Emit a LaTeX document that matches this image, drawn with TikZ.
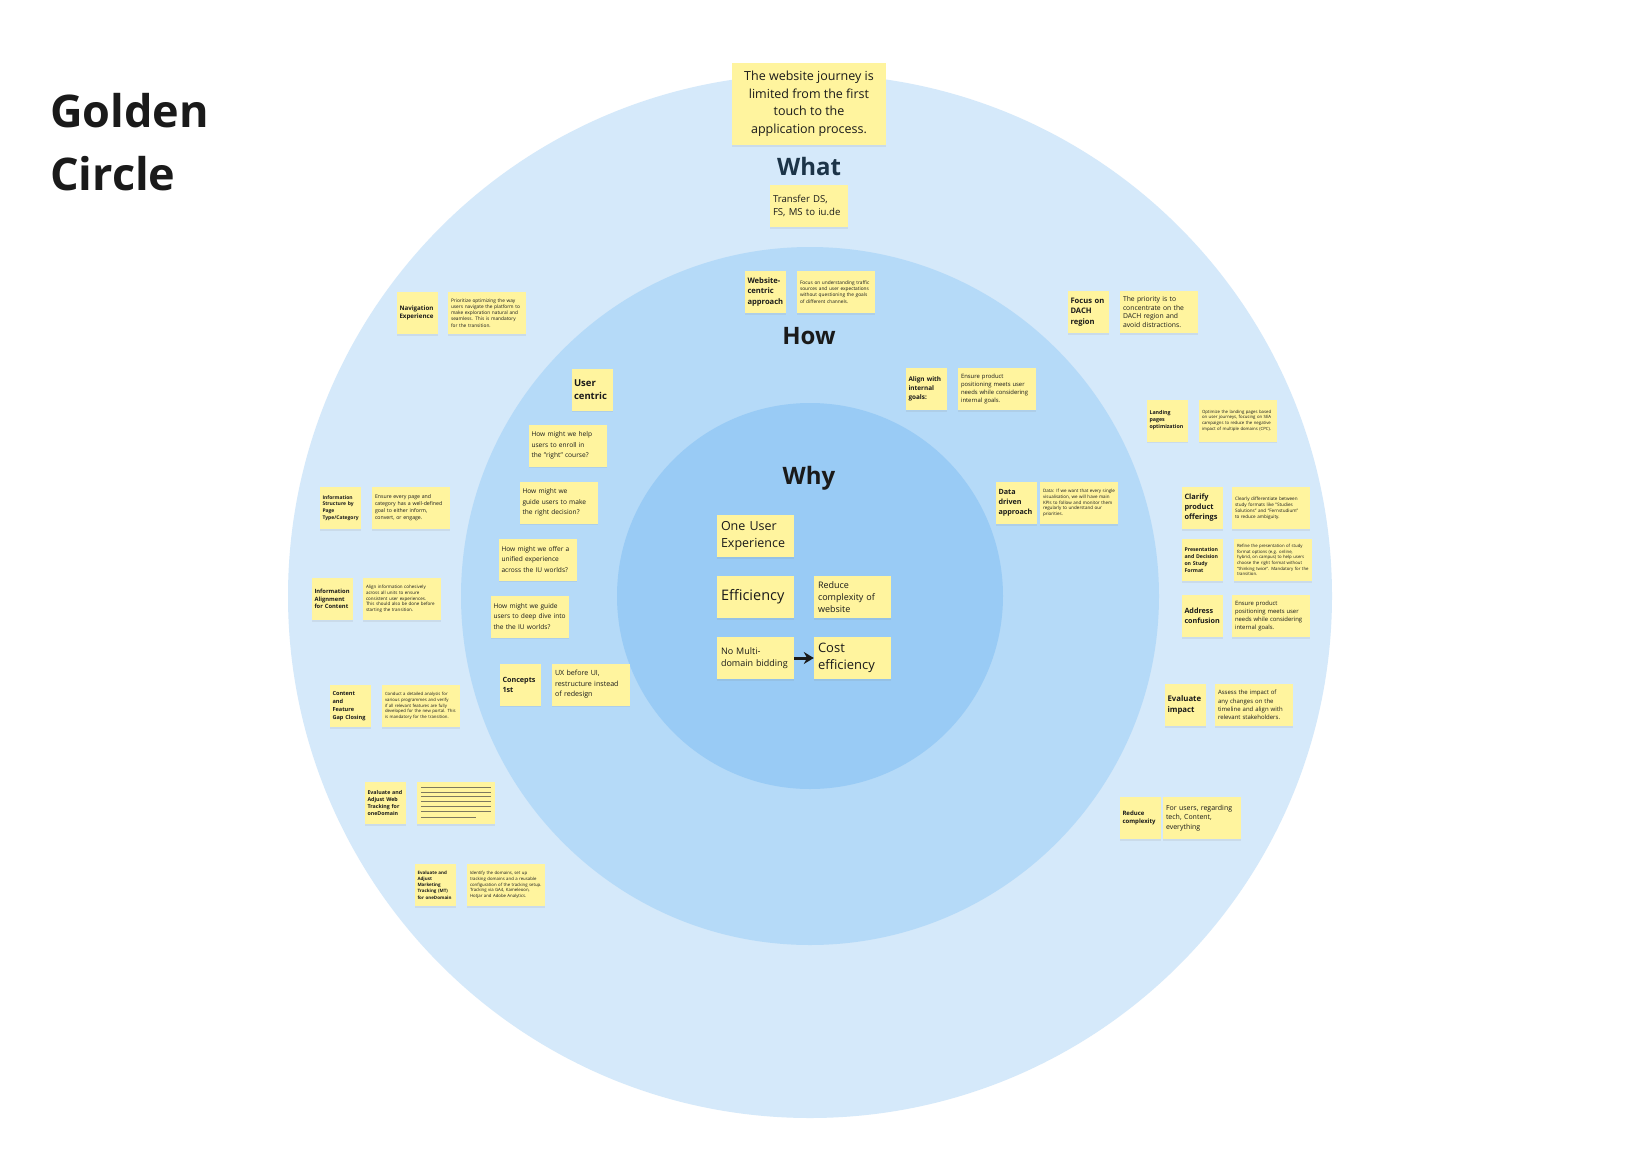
\documentclass[tikz,border=0pt]{standalone}
\usepackage{fontspec}
\setmainfont{Open Sans}
\usetikzlibrary{arrows.meta,shadows,calc}
\definecolor{outerC}{RGB}{213,233,250}
\definecolor{midC}{RGB}{181,218,248}
\definecolor{innerC}{RGB}{153,203,245}
\definecolor{noteY}{RGB}{255,244,158}
\definecolor{whatC}{RGB}{28,52,72}
\definecolor{inkC}{RGB}{26,26,26}
\definecolor{ruleC}{RGB}{125,120,95}
\newcommand{\fsz}[2]{\fontsize{#1}{#2}\selectfont}
\hyphenpenalty=10000
\exhyphenpenalty=10000
\begin{document}
\begin{tikzpicture}[x=1pt,y=-1pt,
  sticky/.style={fill=noteY, inner sep=0pt, align=left, text=inkC,
    drop shadow={opacity=0.13,shadow xshift=0pt,shadow yshift=-1.5pt}},
  stickyS/.style={sticky, minimum width=41pt, minimum height=42pt, text width=36pt},
  stickyW/.style={sticky, minimum width=78pt, minimum height=42pt, text width=72pt},
  stickyB/.style={sticky, minimum width=77pt, minimum height=42pt, text width=69pt},
  hmwtext/.style={font=\fsz{6.6}{10.5}, text width=73pt},
  ringlabel/.style={font=\bfseries\fsz{24}{28}, text=inkC},
  titletext/.style={font=\bfseries\fsz{45}{56}, text=inkC, anchor=base west, inner sep=0pt},
  ruleline/.style={draw=ruleC, line width=1pt}
]
\fill[white] (0,0) rectangle (1647,1170);
% rings
\fill[outerC] (810,596) circle (522);
\fill[midC] (810,596) circle (349);
\fill[innerC] (810,596) circle (193);

% title
\node[titletext] (title1) at (50,127) {Golden};
\node[titletext] (title2) at (50,190) {Circle};

% ring labels
\node[ringlabel, text=whatC] (what) at (809,166) {What};
\node[ringlabel] (how) at (809,336) {How};
\node[ringlabel] (why) at (809,478) {Why};

% What ring, top
\node[sticky, minimum width=154pt, minimum height=82pt, align=center, font=\fsz{12.5}{17.5}] (journey) at (809,104)
  {The website journey is\\limited from the first\\touch to the\\application process.};
\node[stickyW, font=\fsz{9.6}{13.5}] (transfer) at (809,206) {Transfer DS,\\FS, MS to iu.de};

% How ring
\node[stickyS, font=\bfseries\fsz{7.6}{10.5}] (web) at (765.5,292) {Website-\\centric\\approach};
\node[stickyW, font=\fsz{4.8}{6.2}] (webT) at (836,292) {Focus on understanding traffic sources and user expectations without questioning the goals of different channels.};
\node[stickyS, font=\bfseries\fsz{9.5}{13}] (user) at (592,389.5) {User\\centric};
\node[stickyS, font=\bfseries\fsz{6.4}{9}] (align) at (926.5,389) {Align with\\internal\\goals:};
\node[stickyW, font=\fsz{5.9}{8.3}] (alignT) at (997,389) {Ensure product\\positioning meets user\\needs while considering\\internal goals.};
\node[stickyW, hmwtext] (hmw1) at (568,445.5) {How might we help\\users to enroll in\\the "right" course?};
\node[stickyW, hmwtext] (hmw2) at (559,502.5) {How might we\\guide users to make\\the right decision?};
\node[stickyW, hmwtext] (hmw3) at (538,559.5) {How might we offer a\\unified experience\\across the IU worlds?};
\node[stickyW, hmwtext] (hmw4) at (530,616.5) {How might we guide\\users to deep dive into\\the the IU worlds?};
\node[stickyS, font=\bfseries\fsz{7.2}{10}] (conc) at (520.5,684.5) {Concepts\\1st};
\node[stickyW, font=\fsz{7.1}{10.5}] (ux) at (591,684.5) {UX before UI,\\restructure instead\\of redesign};
\node[stickyS, font=\bfseries\fsz{7.2}{10}] (data) at (1016.5,503) {Data\\driven\\approach};
\node[stickyW, font=\fsz{4.5}{5.8}] (dataT) at (1079,503) {Data: If we want that every single visualisation, we will have main KPIs to follow and monitor them regularly to understand our priorities.};

% What ring, left
\node[stickyS, font=\bfseries\fsz{6.2}{8.5}] (nav) at (417.5,313) {Navigation\\Experience};
\node[stickyW, font=\fsz{4.8}{6.2}] (navT) at (487,313) {Prioritize optimizing the way users navigate the platform to make exploration natural and seamless. This is mandatory for the transition.};
\node[stickyS, font=\bfseries\fsz{5}{6.8}] (infs) at (340.5,508) {Information\\Structure by\\Page\\Type/Category};
\node[stickyW, font=\fsz{5.2}{7}] (infsT) at (411,508) {Ensure every page and\\category has a well-defined\\goal to either inform,\\convert, or engage.};
\node[stickyS, font=\bfseries\fsz{5.8}{7.8}] (infa) at (332.5,599) {Information\\Alignment\\for Content};
\node[stickyW, font=\fsz{4.5}{5.8}] (infaT) at (402,599) {Align information cohesively across all units to ensure consistent user experiences. This should also be done before starting the transition.};
\node[stickyS, font=\bfseries\fsz{5.6}{7.8}] (gap) at (350.5,706) {Content\\and\\Feature\\Gap Closing};
\node[stickyW, font=\fsz{4.3}{5.6}] (gapT) at (421,706) {Conduct a detailed analysis for various programmes and verify if all relevant features are fully developed for the new portal. This is mandatory for the transition.};
\node[stickyS, font=\bfseries\fsz{5.3}{7}] (wt) at (385.5,803) {Evaluate and\\Adjust Web\\Tracking for\\oneDomain};
\node[stickyW] (wtT) at (456,803) {};
\foreach \i in {0,...,5}
  \draw[ruleline] ($(wtT.north west)+(4,5.5+4.8*\i)$) -- ++(70,0);
\draw[ruleline] ($(wtT.north west)+(4,35.3)$) -- ++(55,0);
\node[stickyS, font=\bfseries\fsz{4.5}{6.2}] (mt) at (435.5,885) {Evaluate and\\Adjust\\Marketing\\Tracking (MT)\\for oneDomain};
\node[stickyW, font=\fsz{4.3}{5.6}] (mtT) at (506,885) {Identify the domains, set up tracking domains and a reusable configuration of the tracking setup. Tracking via GA4, Kameleoon, Hotjar and Adobe Analytics.};

% What ring, right
\node[stickyS, font=\bfseries\fsz{7.6}{10.5}] (dach) at (1088.5,312) {Focus on\\DACH\\region};
\node[stickyW, font=\fsz{6.8}{8.8}] (dachT) at (1159,312) {The priority is to\\concentrate on the\\DACH region and\\avoid distractions.};
\node[stickyS, font=\bfseries\fsz{5.3}{7}] (land) at (1167.5,420.5) {Landing\\pages\\optimization};
\node[stickyW, font=\fsz{4.3}{5.6}] (landT) at (1238,420.5) {Optimize the landing pages based on user journeys, focusing on SEA campaigns to reduce the negative impact of multiple domains (CPC).};
\node[stickyS, font=\bfseries\fsz{7.4}{10}] (clar) at (1202.5,508) {Clarify\\product\\offerings};
\node[stickyW, font=\fsz{4.6}{6}] (clarT) at (1271,508) {Clearly differentiate between study formats like "Studies Solutions" and "Fernstudium" to reduce ambiguity.};
\node[stickyS, font=\bfseries\fsz{5.2}{7}] (pres) at (1202.5,560) {Presentation\\and Decision\\on Study\\Format};
\node[stickyW, font=\fsz{4.3}{5.6}] (presT) at (1273,560) {Refine the presentation of study format options (e.g. online, hybrid, on campus) to help users choose the right format without "thinking twice". Mandatory for the transition.};
\node[stickyS, font=\bfseries\fsz{7.2}{10}] (addr) at (1202.5,616) {Address\\confusion};
\node[stickyW, font=\fsz{5.9}{8.3}] (addrT) at (1271,616) {Ensure product\\positioning meets user\\needs while considering\\internal goals.};
\node[stickyS, font=\bfseries\fsz{7.8}{10.5}] (eval) at (1185.5,705) {Evaluate\\impact};
\node[stickyW, font=\fsz{6}{8.3}] (evalT) at (1254,705) {Assess the impact of\\any changes on the\\timeline and align with\\relevant stakeholders.};
\node[stickyS, font=\bfseries\fsz{6}{8}] (red) at (1140.5,818) {Reduce\\complexity};
\node[stickyW, font=\fsz{7}{9.5}] (redT) at (1202,818) {For users, regarding\\tech, Content,\\everything};

% Why ring
\node[stickyB, font=\fsz{12.5}{17}] (oux) at (755.5,536) {One User\\Experience};
\node[stickyB, font=\fsz{14.5}{18}] (eff) at (755.5,597) {Efficiency};
\node[stickyB, font=\fsz{9}{12}] (rcw) at (852.5,597) {Reduce\\complexity of\\website};
\node[stickyB, font=\fsz{9}{12.5}] (nomd) at (755.5,658) {No Multi-\\domain bidding};
\node[stickyB, font=\fsz{13}{17}] (cost) at (852.5,658) {Cost\\efficiency};
\draw[-{Stealth[length=10pt,width=12pt]}, line width=3pt, inkC] (nomd.east) -- (cost.west);
\end{tikzpicture}
\end{document}
